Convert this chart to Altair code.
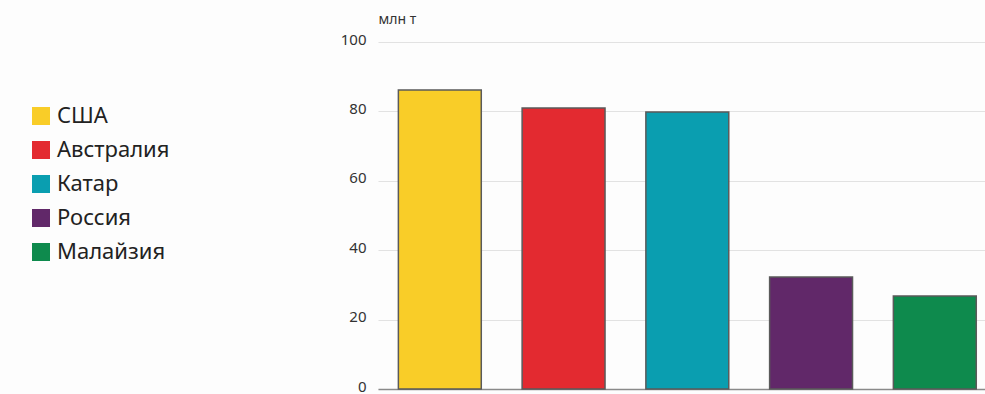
import altair as alt
import pandas as pd

# LNG exports by country, million tonnes
countries = ["США", "Австралия", "Катар", "Россия", "Малайзия"]
values = [86.2, 81.0, 79.8, 32.3, 26.8]
colors = ["#F9CD28", "#E32A30", "#0A9EB0", "#612869", "#0E8A4D"]
y_ticks = [0, 20, 40, 60, 80, 100]

df = pd.DataFrame({"country": countries, "value": values})

FONT = "Noto Sans"

chart = (
    alt.Chart(df)
    .mark_bar(stroke="#5a5a5a", strokeWidth=1.5)
    .encode(
        x=alt.X(
            "country:N",
            sort=countries,
            scale=alt.Scale(paddingInner=0.33, paddingOuter=0.1176, align=0.7),
            axis=alt.Axis(
                title=None,
                labels=False,
                ticks=False,
                domain=True,
                domainColor="#8a8a8a",
                domainWidth=1.5,
                grid=False,
            ),
        ),
        y=alt.Y(
            "value:Q",
            scale=alt.Scale(domain=[0, 100], nice=False),
            axis=alt.Axis(
                values=y_ticks,
                title="млн т",
                titleAngle=0,
                titleAlign="left",
                titleBaseline="alphabetic",
                titleX=0,
                titleY=-19,
                titleFont=FONT,
                titleFontSize=14,
                titleFontWeight="normal",
                titleColor="#333333",
                labelFont=FONT,
                labelFontSize=15,
                labelColor="#333333",
                labelPadding=12,
                labelBaseline="middle",
                labelOffset=-3,
                labelFlush=False,
                ticks=False,
                domain=False,
                gridColor="#e2e2e2",
                gridWidth=1.2,
            ),
        ),
        color=alt.Color(
            "country:N",
            sort=countries,
            scale=alt.Scale(domain=countries, range=colors),
            legend=alt.Legend(
                title=None,
                orient="none",
                legendX=-348,
                legendY=63,
                symbolType="square",
                symbolSize=324,
                symbolStrokeWidth=0,
                symbolOpacity=1,
                labelFont=FONT,
                labelFontSize=22,
                labelColor="#222222",
                labelOffset=5,
                rowPadding=12,
            ),
        ),
    )
    .properties(
        width=607,
        height=347,
        autosize=alt.AutoSizeParams(type="none"),
        padding={"left": 378, "top": 42, "right": 0, "bottom": 5},
        background="#fdfdfd",
    )
    .configure_view(stroke=None)
)

chart.save("out.html", embed_options={"renderer": "svg", "actions": False})
